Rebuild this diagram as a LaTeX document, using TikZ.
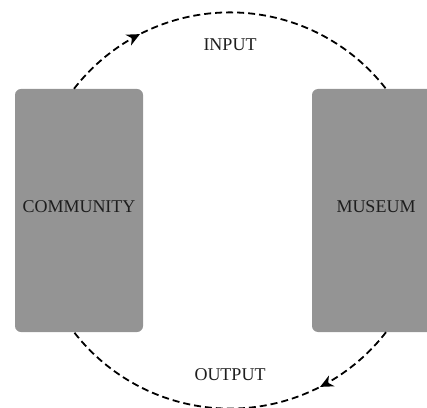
\documentclass[tikz,border=0pt]{standalone}
\usepackage{fontspec}
\setmainfont{Liberation Serif}
\usetikzlibrary{arrows.meta,decorations.markings}
\definecolor{boxgray}{HTML}{949494}
\definecolor{textdark}{HTML}{1E1E1E}
\begin{document}
\begin{tikzpicture}[x=1pt,y=1pt,
  block/.style={fill=boxgray, rounded corners=6pt, minimum width=128pt, minimum height=243pt,
    inner sep=0pt, text=textdark, font=\fontsize{18}{20}\selectfont, text depth=8pt},
  lbl/.style={text=textdark, font=\fontsize{18}{20}\selectfont, inner sep=0pt},
  flow/.style={dash pattern=on 7pt off 4pt, line width=1.8pt, black,
    decoration={markings, mark=at position #1 with {\arrow{Stealth[length=13pt,width=12pt,inset=4pt]}}},
    postaction=decorate}
]
\useasboundingbox (0,0) rectangle (427,407);
\clip (0,0) rectangle (427,407);
\node[block] (community) at (79,196.5) {COMMUNITY};
\node[block] (museum) at (376,196.5) {MUSEUM};
\draw[flow=0.24] ([xshift=-5pt]community.north) arc[start angle=142.2, end angle=37.8, radius=197.4];
\draw[flow=0.24] ([xshift=10pt]museum.south) arc[start angle=-37.8, end angle=-142.2, radius=197.4];
\node[lbl] (input) at (230,362) {INPUT};
\node[lbl] (output) at (230,32) {OUTPUT};
\end{tikzpicture}
\end{document}
